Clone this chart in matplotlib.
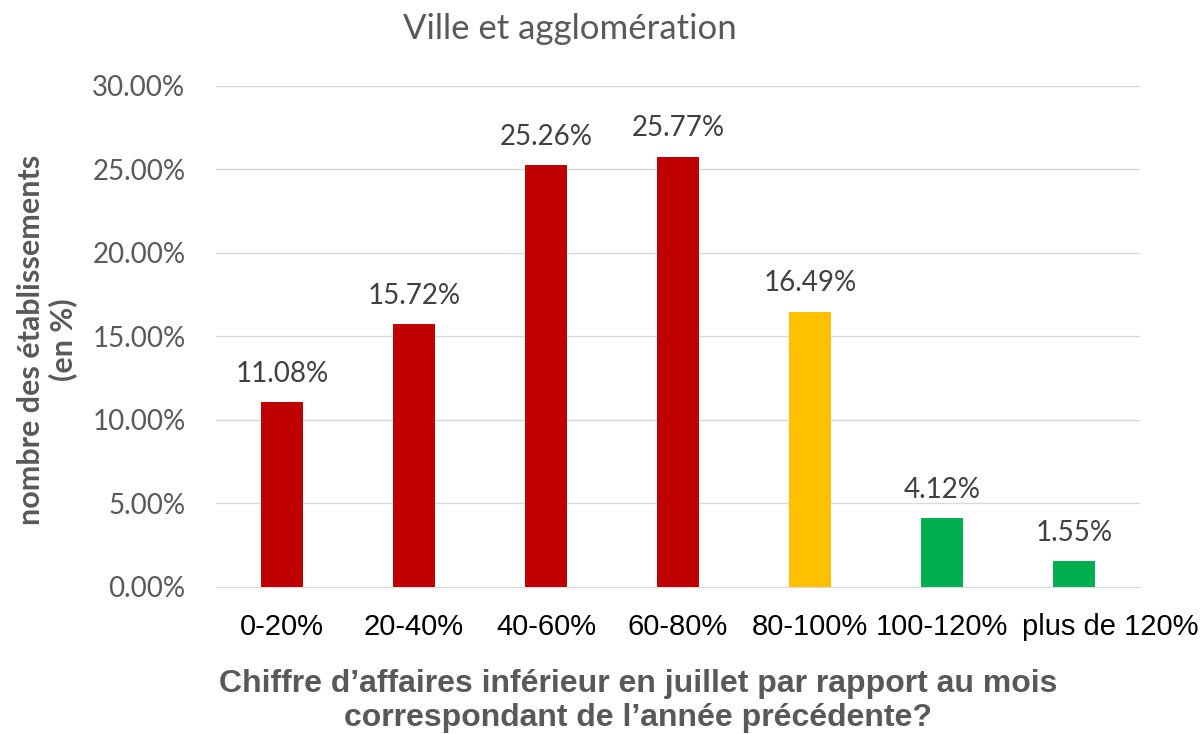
import matplotlib.pyplot as plt
import matplotlib.transforms as mtransforms
import numpy as np

# Catégories et valeurs (en %)
categories = ['0-20%', '20-40%', '40-60%', '60-80%', '80-100%', '100-120%', 'plus de 120%']
valeurs = [11.08, 15.72, 25.26, 25.77, 16.49, 4.12, 1.55]
couleurs = ['#C00000', '#C00000', '#C00000', '#C00000', '#FFC000', '#00B050', '#00B050']

plt.rcParams['font.family'] = ['Liberation Sans', 'DejaVu Sans']
gris = '#595959'
calibri = ['Lato', 'DejaVu Sans']

fig = plt.figure(figsize=(12.04, 7.34), dpi=100)
ax = fig.add_axes([0.1794, 0.2003, 0.7674, 0.6826])

x_pos = np.arange(len(categories))
rects = ax.bar(x_pos, valeurs, width=0.315, color=couleurs, zorder=3)

# Etiquettes des barres
for r, v in zip(rects, valeurs):
    ax.annotate('%.2f%%' % v, (r.get_x() + r.get_width() / 2, v),
                xytext=(0, 11), textcoords='offset points',
                ha='center', va='bottom', fontsize=20, color='#404040',
                family=calibri)

ax.set_xlim(-0.5, len(categories) - 0.5)
ax.set_ylim(0, 30)
ax.set_yticks(np.arange(0, 30.1, 5))
ax.set_yticklabels(['%.2f%%' % t for t in np.arange(0, 30.1, 5)],
                   family=calibri, fontsize=20, color=gris)
ax.set_xticks(x_pos)
ax.set_xticklabels(categories, fontsize=21, color='black')
ax.tick_params(axis='both', length=0)
ax.tick_params(axis='y', pad=22)
ax.tick_params(axis='x', pad=19)

# le dernier libellé est décalé à droite comme dans Excel
lab = ax.get_xticklabels()[-1]
lab.set_transform(lab.get_transform() + mtransforms.ScaledTranslation(0.36, 0, fig.dpi_scale_trans))

ax.grid(axis='y', color='#D9D9D9', linewidth=1, zorder=0)
for s in ['top', 'right', 'left']:
    ax.spines[s].set_visible(False)
ax.spines['bottom'].set_color('#D9D9D9')

fig.text(0.473, 0.960, 'Ville et agglomération', ha='center', va='center',
         fontsize=25, color=gris, family=calibri)
fig.text(0.039, 0.537, 'nombre des établissements\n(en %)', rotation=90,
         ha='center', va='center', fontsize=22, fontweight='bold', color=gris,
         linespacing=1.15, family=calibri)
fig.text(0.530, 0.045, "Chiffre d\u2019affaires inférieur en juillet par rapport au mois\ncorrespondant de l\u2019année précédente?",
         ha='center', va='center', fontsize=23, fontweight='bold', color=gris,
         linespacing=1.15)

plt.savefig('out.png', dpi=100)
